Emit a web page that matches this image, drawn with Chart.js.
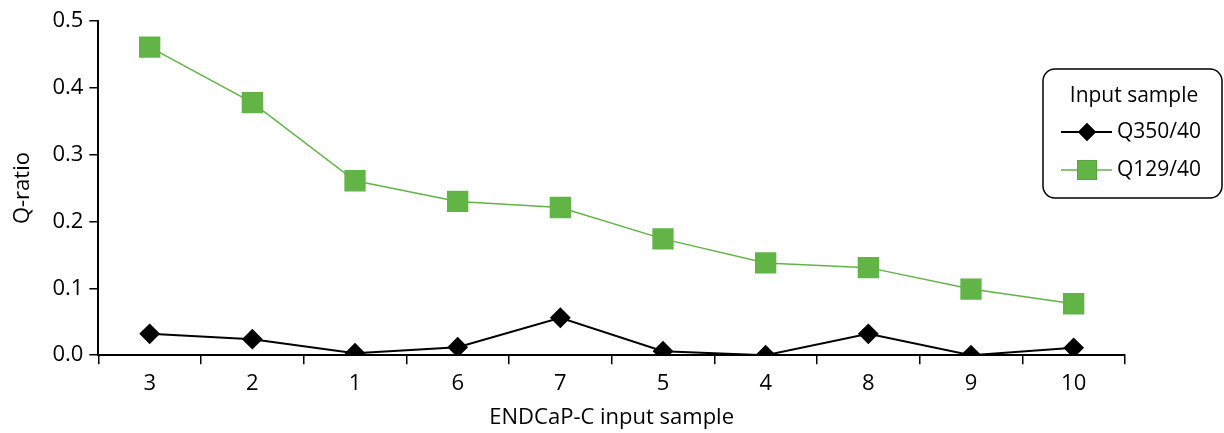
<!DOCTYPE html>
<html>
<head>
<meta charset="utf-8">
<script src="https://cdn.jsdelivr.net/npm/chart.js@4"></script>
<style>
  body { margin: 0; background: #fff; }
</style>
</head>
<body>
<canvas id="canvas" width="1224" height="433"></canvas>
<script>
// categories along x
var samples = ['3', '2', '1', '6', '7', '5', '4', '8', '9', '10'];
// series values
var q350 = [0.032, 0.024, 0.003, 0.012, 0.056, 0.006, 0.0, 0.032, 0.0, 0.011];
var q129 = [0.461, 0.378, 0.261, 0.230, 0.221, 0.174, 0.138, 0.131, 0.099, 0.077];
var yTicks = [0, 0.1, 0.2, 0.3, 0.4, 0.5];

var font = "'Open Sans', 'Noto Sans', sans-serif";
var green = '#62b446';

// draws the boxed legend on the right, like the original figure
var boxLegend = {
    id: 'boxLegend',
    afterDraw: function(chart) {
        var ctx = chart.ctx;
        var x = 1043, y = 69, w = 179, h = 129;
        ctx.save();
        ctx.strokeStyle = '#000';
        ctx.lineWidth = 1.5;
        ctx.beginPath();
        ctx.roundRect(x, y, w, h, 12);
        ctx.stroke();
        ctx.fillStyle = '#000';
        ctx.font = '21px ' + font;
        ctx.textBaseline = 'middle';
        ctx.textAlign = 'center';
        ctx.fillText('Input sample', 1134, 96);
        ctx.textAlign = 'left';
        chart.data.datasets.forEach(function(ds, i) {
            var ry = 132 + i * 38;
            ctx.strokeStyle = ds.borderColor;
            ctx.lineWidth = ds.borderWidth;
            ctx.beginPath();
            ctx.moveTo(1061, ry);
            ctx.lineTo(1112, ry);
            ctx.stroke();
            Chart.helpers.drawPoint(ctx, {
                pointStyle: ds.pointStyle,
                radius: ds.pointRadius,
                borderWidth: 0
            }, 1087, ry);
            ctx.fillStyle = ds.backgroundColor;
            ctx.fill();
            ctx.fillStyle = '#000';
            ctx.fillText(ds.label, 1117, ry);
        });
        ctx.restore();
    }
};

var ctx = document.getElementById('canvas').getContext('2d');
var myChart = new Chart(ctx, {
    type: 'line',
    data: {
        labels: samples,
        datasets: [{
            label: 'Q350/40',
            data: q350,
            borderColor: '#000',
            backgroundColor: '#000',
            borderWidth: 2,
            pointStyle: 'rectRot',
            pointRadius: 9,
            pointHoverRadius: 9,
            tension: 0
        }, {
            label: 'Q129/40',
            data: q129,
            borderColor: green,
            backgroundColor: green,
            borderWidth: 1.5,
            pointStyle: 'rect',
            pointRadius: 14,
            pointHoverRadius: 14,
            tension: 0
        }]
    },
    options: {
        responsive: false,
        animation: false,
        layout: { padding: { top: 21, right: 99, bottom: 2, left: 6 } },
        plugins: {
            legend: { display: false },
            tooltip: { enabled: false }
        },
        scales: {
            x: {
                offset: true,
                border: { color: '#000', width: 2 },
                grid: {
                    offset: true,
                    drawOnChartArea: false,
                    color: '#000',
                    lineWidth: 1.5,
                    tickLength: 9
                },
                ticks: { color: '#000', font: { family: font, size: 22 }, padding: 6 },
                title: {
                    display: true,
                    text: 'ENDCaP-C input sample',
                    color: '#000',
                    font: { family: font, size: 22 },
                    padding: { top: 2, bottom: 0 }
                }
            },
            y: {
                min: 0,
                max: 0.5,
                afterBuildTicks: function(axis) {
                    axis.ticks = yTicks.map(function(v) { return { value: v }; });
                },
                border: { color: '#000', width: 2 },
                grid: {
                    drawOnChartArea: false,
                    color: '#000',
                    lineWidth: 1.5,
                    tickLength: 9
                },
                ticks: {
                    color: '#000',
                    font: { family: font, size: 22 },
                    padding: 6,
                    callback: function(v) { return v.toFixed(1); }
                },
                title: {
                    display: true,
                    text: 'Q-ratio',
                    color: '#000',
                    font: { family: font, size: 22 },
                    padding: { top: 4, bottom: 10 }
                }
            }
        }
    },
    plugins: [boxLegend]
});
</script>
</body>
</html>
